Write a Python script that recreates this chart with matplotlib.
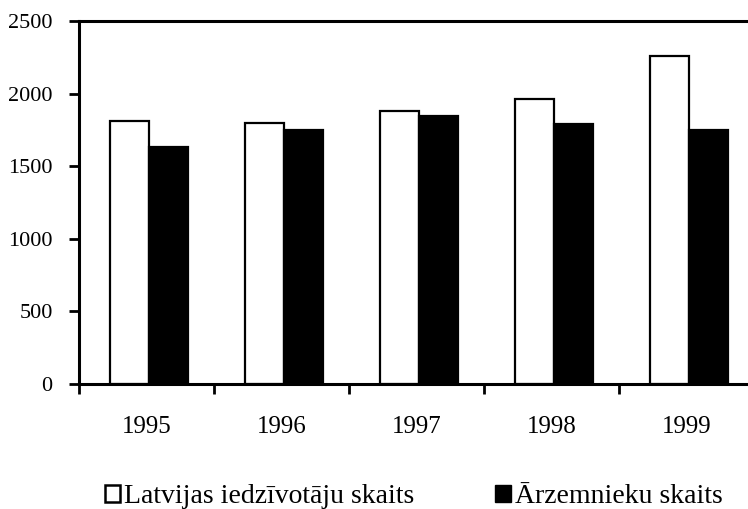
import matplotlib
matplotlib.use('Agg')
import matplotlib.pyplot as plt
import numpy as np
from matplotlib.patches import Patch

years = ['1995', '1996', '1997', '1998', '1999']
latvijas = [1813, 1801, 1882, 1962, 2262]
arzemnieku = [1635, 1751, 1843, 1793, 1747]
labels = ['Latvijas iedzīvotāju skaits', 'Ārzemnieku skaits']

plt.rcParams['font.family'] = ['Liberation Serif', 'DejaVu Serif']

fig = plt.figure(figsize=(7.48, 5.09), dpi=100)
ax = fig.add_axes([0.1056, 0.2456, 0.9024, 0.7131])

x = np.arange(len(years))
w = 0.29
ax.bar(x - w/2 + 0.02, latvijas, w, color='white', edgecolor='black', linewidth=1.6)
ax.bar(x + w/2 + 0.02, arzemnieku, w, color='black', edgecolor='black', linewidth=1.6)

ax.set_xlim(-0.5, 4.5)
ax.set_ylim(0, 2500)
ax.set_yticks([0, 500, 1000, 1500, 2000, 2500])
ax.set_xticks(x)
ax.set_xticklabels(years)
ax.set_xticks(np.arange(-0.5, 5, 1), minor=True)
ax.tick_params(axis='x', which='major', length=0, pad=23, labelsize=18)
ax.tick_params(axis='x', which='minor', length=7, width=2, direction='out')
ax.tick_params(axis='y', length=7, width=2, pad=12, labelsize=16)

for s in ['left', 'bottom', 'top', 'right']:
    ax.spines[s].set_linewidth(2.2)

handles = [Patch(facecolor='white', edgecolor='black', linewidth=1.8),
           Patch(facecolor='black', edgecolor='black')]
fig.legend(handles, labels, loc='center left', bbox_to_anchor=(0.1404, 0.024),
           ncol=2, frameon=False, fontsize=20, columnspacing=2.9,
           handletextpad=0.15, handlelength=0.55, handleheight=0.55,
           borderpad=0, borderaxespad=0)

fig.savefig('out.png', dpi=100)
